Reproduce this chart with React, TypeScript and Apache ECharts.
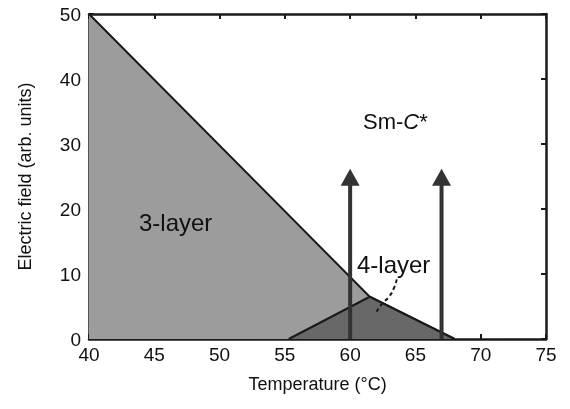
import React, { useEffect, useRef } from "react";
import * as echarts from "echarts";

// Phase boundaries (Temperature °C, Electric field arb. units)
const threeLayerBoundary: [number, number][] = [
  [40, 50],
  [61.5, 6.5],
  [68, 0],
];
const fourLayerBoundary: [number, number][] = [
  [55.3, 0],
  [61.5, 6.5],
  [68, 0],
];
// Dashed pointer from the "4-layer" label into the 4-layer region
const pointerCurve: [number, number][] = [
  [63.57, 9.18],
  [63.36, 7.85],
  [62.98, 6.51],
  [62.42, 5.38],
  [62.03, 4.2],
];
// Field-sweep arrows: temperature, shaft start, shaft end, head centre
const arrowTemps = [60, 67];
const arrowStart = 0;
const arrowShaftEnd = 24.5;
const arrowHeadCentre = 24.9;

const xTicks = { min: 40, max: 75, interval: 5 };
const yTicks = { min: 0, max: 50, interval: 10 };

const FONT = "Liberation Sans, Arial, Helvetica, sans-serif";

export default function App() {
  const ref = useRef<HTMLDivElement>(null);
  useEffect(() => {
    if (!ref.current) return;
    const chart = echarts.init(ref.current, undefined, { renderer: "svg" });
    const axisLine = { show: true, onZero: false, lineStyle: { color: "#1a1a1a", width: 2.5 } };
    const axisTick = { show: true, inside: true, length: 5, lineStyle: { color: "#1a1a1a", width: 2 } };
    const shafts = arrowTemps.map((t) => ({
      type: "line",
      data: [
        [t, arrowStart],
        [t, arrowShaftEnd],
      ],
      symbol: "none",
      lineStyle: { color: "#333", width: 4 },
      silent: true,
      z: 5,
    }));
    chart.setOption({
      animation: false,
      grid: { left: 89, right: 24, top: 14, bottom: 70 },
      xAxis: [
        {
          type: "value",
          ...xTicks,
          axisLine,
          axisTick,
          splitLine: { show: false },
          axisLabel: { color: "#111", fontSize: 19, fontFamily: FONT, margin: 6 },
          name: "Temperature (°C)",
          nameLocation: "middle",
          nameGap: 36,
          nameTextStyle: { color: "#111", fontSize: 18, fontFamily: FONT },
        },
        {
          type: "value",
          position: "top",
          ...xTicks,
          axisLine,
          axisTick,
          splitLine: { show: false },
          axisLabel: { show: false },
        },
      ],
      yAxis: [
        {
          type: "value",
          ...yTicks,
          axisLine,
          axisTick,
          splitLine: { show: false },
          axisLabel: { color: "#111", fontSize: 19, fontFamily: FONT, margin: 8 },
          name: "Electric field (arb. units)",
          nameLocation: "middle",
          nameGap: 55,
          nameTextStyle: { color: "#111", fontSize: 18, fontFamily: FONT },
        },
        {
          type: "value",
          position: "right",
          ...yTicks,
          axisLine,
          axisTick,
          splitLine: { show: false },
          axisLabel: { show: false },
        },
      ],
      series: [
        {
          type: "line",
          data: threeLayerBoundary,
          symbol: "none",
          lineStyle: { color: "#1a1a1a", width: 2 },
          areaStyle: { color: "#9c9c9c", opacity: 1 },
          silent: true,
          z: 1,
        },
        {
          type: "line",
          data: fourLayerBoundary,
          symbol: "none",
          lineStyle: { color: "#1a1a1a", width: 2 },
          areaStyle: { color: "#686868", opacity: 1 },
          silent: true,
          z: 2,
        },
        {
          type: "line",
          data: pointerCurve,
          smooth: true,
          symbol: "none",
          lineStyle: { color: "#1a1a1a", width: 2, type: [4, 3] },
          silent: true,
          z: 4,
        },
        ...shafts,
        {
          type: "scatter",
          data: arrowTemps.map((t) => [t, arrowHeadCentre]),
          symbol: "triangle",
          symbolSize: [19, 17],
          itemStyle: { color: "#333", opacity: 1 },
          silent: true,
          z: 6,
        },
      ],
      graphic: [
        {
          type: "text",
          x: 363,
          y: 121,
          z: 10,
          style: {
            text: "{a|Sm-}{b|C}{a|*}",
            verticalAlign: "middle",
            rich: {
              a: { fontSize: 22, fontFamily: FONT, fill: "#111" },
              b: { fontSize: 22, fontFamily: FONT, fontStyle: "italic", fill: "#111" },
            },
          },
        },
        {
          type: "text",
          x: 139,
          y: 222,
          z: 10,
          style: { text: "3-layer", fontSize: 24, fontFamily: FONT, fill: "#111", verticalAlign: "middle" },
        },
        {
          type: "text",
          x: 357,
          y: 264,
          z: 10,
          style: { text: "4-layer", fontSize: 24, fontFamily: FONT, fill: "#111", verticalAlign: "middle" },
        },
      ],
    });
    return () => chart.dispose();
  }, []);
  return <div ref={ref} style={{ position: "fixed", left: 0, top: 0, width: 570, height: 409 }} />;
}
